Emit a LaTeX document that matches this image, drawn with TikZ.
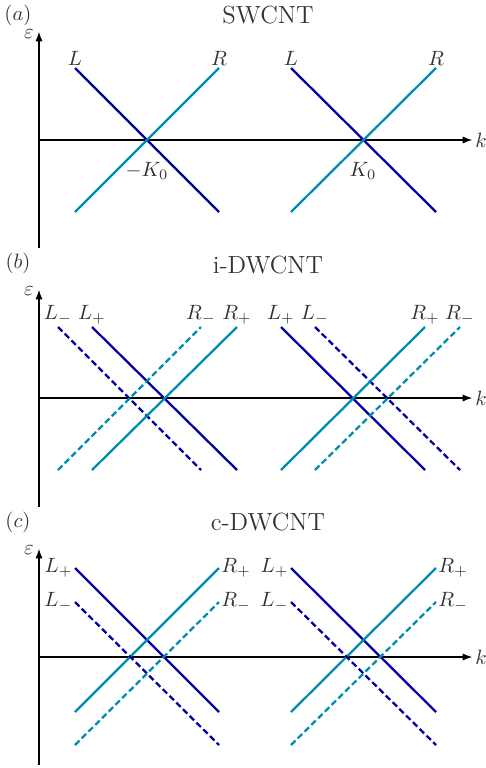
\documentclass[tikz,border=0pt]{standalone}
\usepackage{amsmath}
\usetikzlibrary{arrows.meta}

\definecolor{leftblue}{RGB}{0,0,165}
\definecolor{rightteal}{RGB}{0,140,175}

\tikzset{
    every node/.style={text=black!80},
    every label/.style={text=black!80},
    axis/.style={line width=1pt, black},
    axisarrow/.style={axis, -{Latex[length=5pt,width=3.5pt]}},
    leftmover/.style={line width=1.1pt, leftblue},
    rightmover/.style={line width=1.1pt, rightteal},
    dashedmover/.style={dash pattern=on 3pt off 1.6pt},
    paneltitle/.style={font=\large},
    panelletter/.style={font=\normalsize},
    epslabel/.style={font=\normalsize},
}

\begin{document}
\begin{tikzpicture}[x=0.017cm, y=-0.017cm]
    \useasboundingbox (0,0) rectangle (486,768);

    % ---------------- (a) SWCNT ----------------
    \node[panelletter] (letterA) at (18,15) {$(a)$};
    \node[paneltitle] (titleA) at (268,15) {SWCNT};
    \coordinate (oA) at (39,140);
    \coordinate (topA) at (39,31);
    \coordinate (botA) at (39,248);
    \coordinate (endA) at (473,140);
    \node[epslabel] (epsA) at (29,34) {$\varepsilon$};
    \node (kA) at (481,140) {$k$};
    \draw[axisarrow] (botA) -- (topA);
    \draw[axisarrow] (oA) -- (endA);

    % left cone at -K0
    \coordinate[label={[inner sep=1pt]above:$L$}] (aL1s) at (75,68);
    \coordinate (aL1e) at (219,212);
    \coordinate (aR1s) at (75,212);
    \coordinate[label={[inner sep=1pt]above:$R$}] (aR1e) at (219,68);
    \draw[leftmover] (aL1s) -- (aL1e);
    \draw[rightmover] (aR1s) -- (aR1e);
    \node (mK0) at (147,171) {$-K_0$};

    % right cone at K0
    \coordinate[label={[inner sep=1pt]above:$L$}] (aL2s) at (291,68);
    \coordinate (aL2e) at (436,212);
    \coordinate (aR2s) at (291,212);
    \coordinate[label={[inner sep=1pt]above:$R$}] (aR2e) at (436,68);
    \draw[leftmover] (aL2s) -- (aL2e);
    \draw[rightmover] (aR2s) -- (aR2e);
    \node (pK0) at (363,171) {$K_0$};

    % ---------------- (b) i-DWCNT ----------------
    \node[panelletter] (letterB) at (18,263) {$(b)$};
    \node[paneltitle] (titleB) at (268,265) {i-DWCNT};
    \coordinate (oB) at (39,398);
    \coordinate (topB) at (39,289);
    \coordinate (botB) at (39,507);
    \coordinate (endB) at (473,398);
    \node[epslabel] (epsB) at (29,291) {$\varepsilon$};
    \node (kB) at (481,398) {$k$};
    \draw[axisarrow] (botB) -- (topB);
    \draw[axisarrow] (oB) -- (endB);

    % left cones, shifted along k
    \coordinate[label={[inner sep=1pt]above:$L_-$}] (bLm1s) at (58,327);
    \coordinate (bLm1e) at (201,470);
    \coordinate[label={[inner sep=1pt]above:$L_+$}] (bLp1s) at (92,327);
    \coordinate (bLp1e) at (237,470);
    \coordinate (bRm1s) at (58,470);
    \coordinate[label={[inner sep=1pt]above:$R_-$}] (bRm1e) at (201,327);
    \coordinate (bRp1s) at (92,470);
    \coordinate[label={[inner sep=1pt]above:$R_+$}] (bRp1e) at (237,327);
    \draw[leftmover, dashedmover] (bLm1s) -- (bLm1e);
    \draw[leftmover] (bLp1s) -- (bLp1e);
    \draw[rightmover, dashedmover] (bRm1s) -- (bRm1e);
    \draw[rightmover] (bRp1s) -- (bRp1e);

    % right cones
    \coordinate[label={[inner sep=1pt]above:$L_+$}] (bLp2s) at (281,327);
    \coordinate (bLp2e) at (425,470);
    \coordinate[label={[inner sep=1pt]above:$L_-$}] (bLm2s) at (315,327);
    \coordinate (bLm2e) at (460,470);
    \coordinate (bRp2s) at (281,470);
    \coordinate[label={[inner sep=1pt]above:$R_+$}] (bRp2e) at (425,327);
    \coordinate (bRm2s) at (315,470);
    \coordinate[label={[inner sep=1pt]above:$R_-$}] (bRm2e) at (460,327);
    \draw[leftmover] (bLp2s) -- (bLp2e);
    \draw[leftmover, dashedmover] (bLm2s) -- (bLm2e);
    \draw[rightmover] (bRp2s) -- (bRp2e);
    \draw[rightmover, dashedmover] (bRm2s) -- (bRm2e);

    % ---------------- (c) c-DWCNT ----------------
    \node[panelletter] (letterC) at (18,522) {$(c)$};
    \node[paneltitle] (titleC) at (268,522) {c-DWCNT};
    \coordinate (oC) at (39,657);
    \coordinate (topC) at (39,548);
    \coordinate (botC) at (39,765);
    \coordinate (endC) at (473,657);
    \node[epslabel] (epsC) at (29,550) {$\varepsilon$};
    \node (kC) at (481,657) {$k$};
    \draw[axisarrow] (botC) -- (topC);
    \draw[axisarrow] (oC) -- (endC);

    % left cones, shifted along energy
    \coordinate[label={[inner sep=1pt]left:$L_+$}] (cLp1s) at (75,568);
    \coordinate (cLp1e) at (219,712);
    \coordinate (cRp1s) at (75,712);
    \coordinate[label={[inner sep=1pt]right:$R_+$}] (cRp1e) at (219,568);
    \coordinate[label={[inner sep=1pt]left:$L_-$}] (cLm1s) at (75,602);
    \coordinate (cLm1e) at (219,745);
    \coordinate (cRm1s) at (75,745);
    \coordinate[label={[inner sep=1pt]right:$R_-$}] (cRm1e) at (219,602);
    \draw[leftmover] (cLp1s) -- (cLp1e);
    \draw[rightmover] (cRp1s) -- (cRp1e);
    \draw[leftmover, dashedmover] (cLm1s) -- (cLm1e);
    \draw[rightmover, dashedmover] (cRm1s) -- (cRm1e);

    % right cones
    \coordinate[label={[inner sep=1pt]left:$L_+$}] (cLp2s) at (291,568);
    \coordinate (cLp2e) at (436,712);
    \coordinate (cRp2s) at (291,712);
    \coordinate[label={[inner sep=1pt]right:$R_+$}] (cRp2e) at (436,568);
    \coordinate[label={[inner sep=1pt]left:$L_-$}] (cLm2s) at (291,602);
    \coordinate (cLm2e) at (436,745);
    \coordinate (cRm2s) at (291,745);
    \coordinate[label={[inner sep=1pt]right:$R_-$}] (cRm2e) at (436,602);
    \draw[leftmover] (cLp2s) -- (cLp2e);
    \draw[rightmover] (cRp2s) -- (cRp2e);
    \draw[leftmover, dashedmover] (cLm2s) -- (cLm2e);
    \draw[rightmover, dashedmover] (cRm2s) -- (cRm2e);
\end{tikzpicture}
\end{document}
